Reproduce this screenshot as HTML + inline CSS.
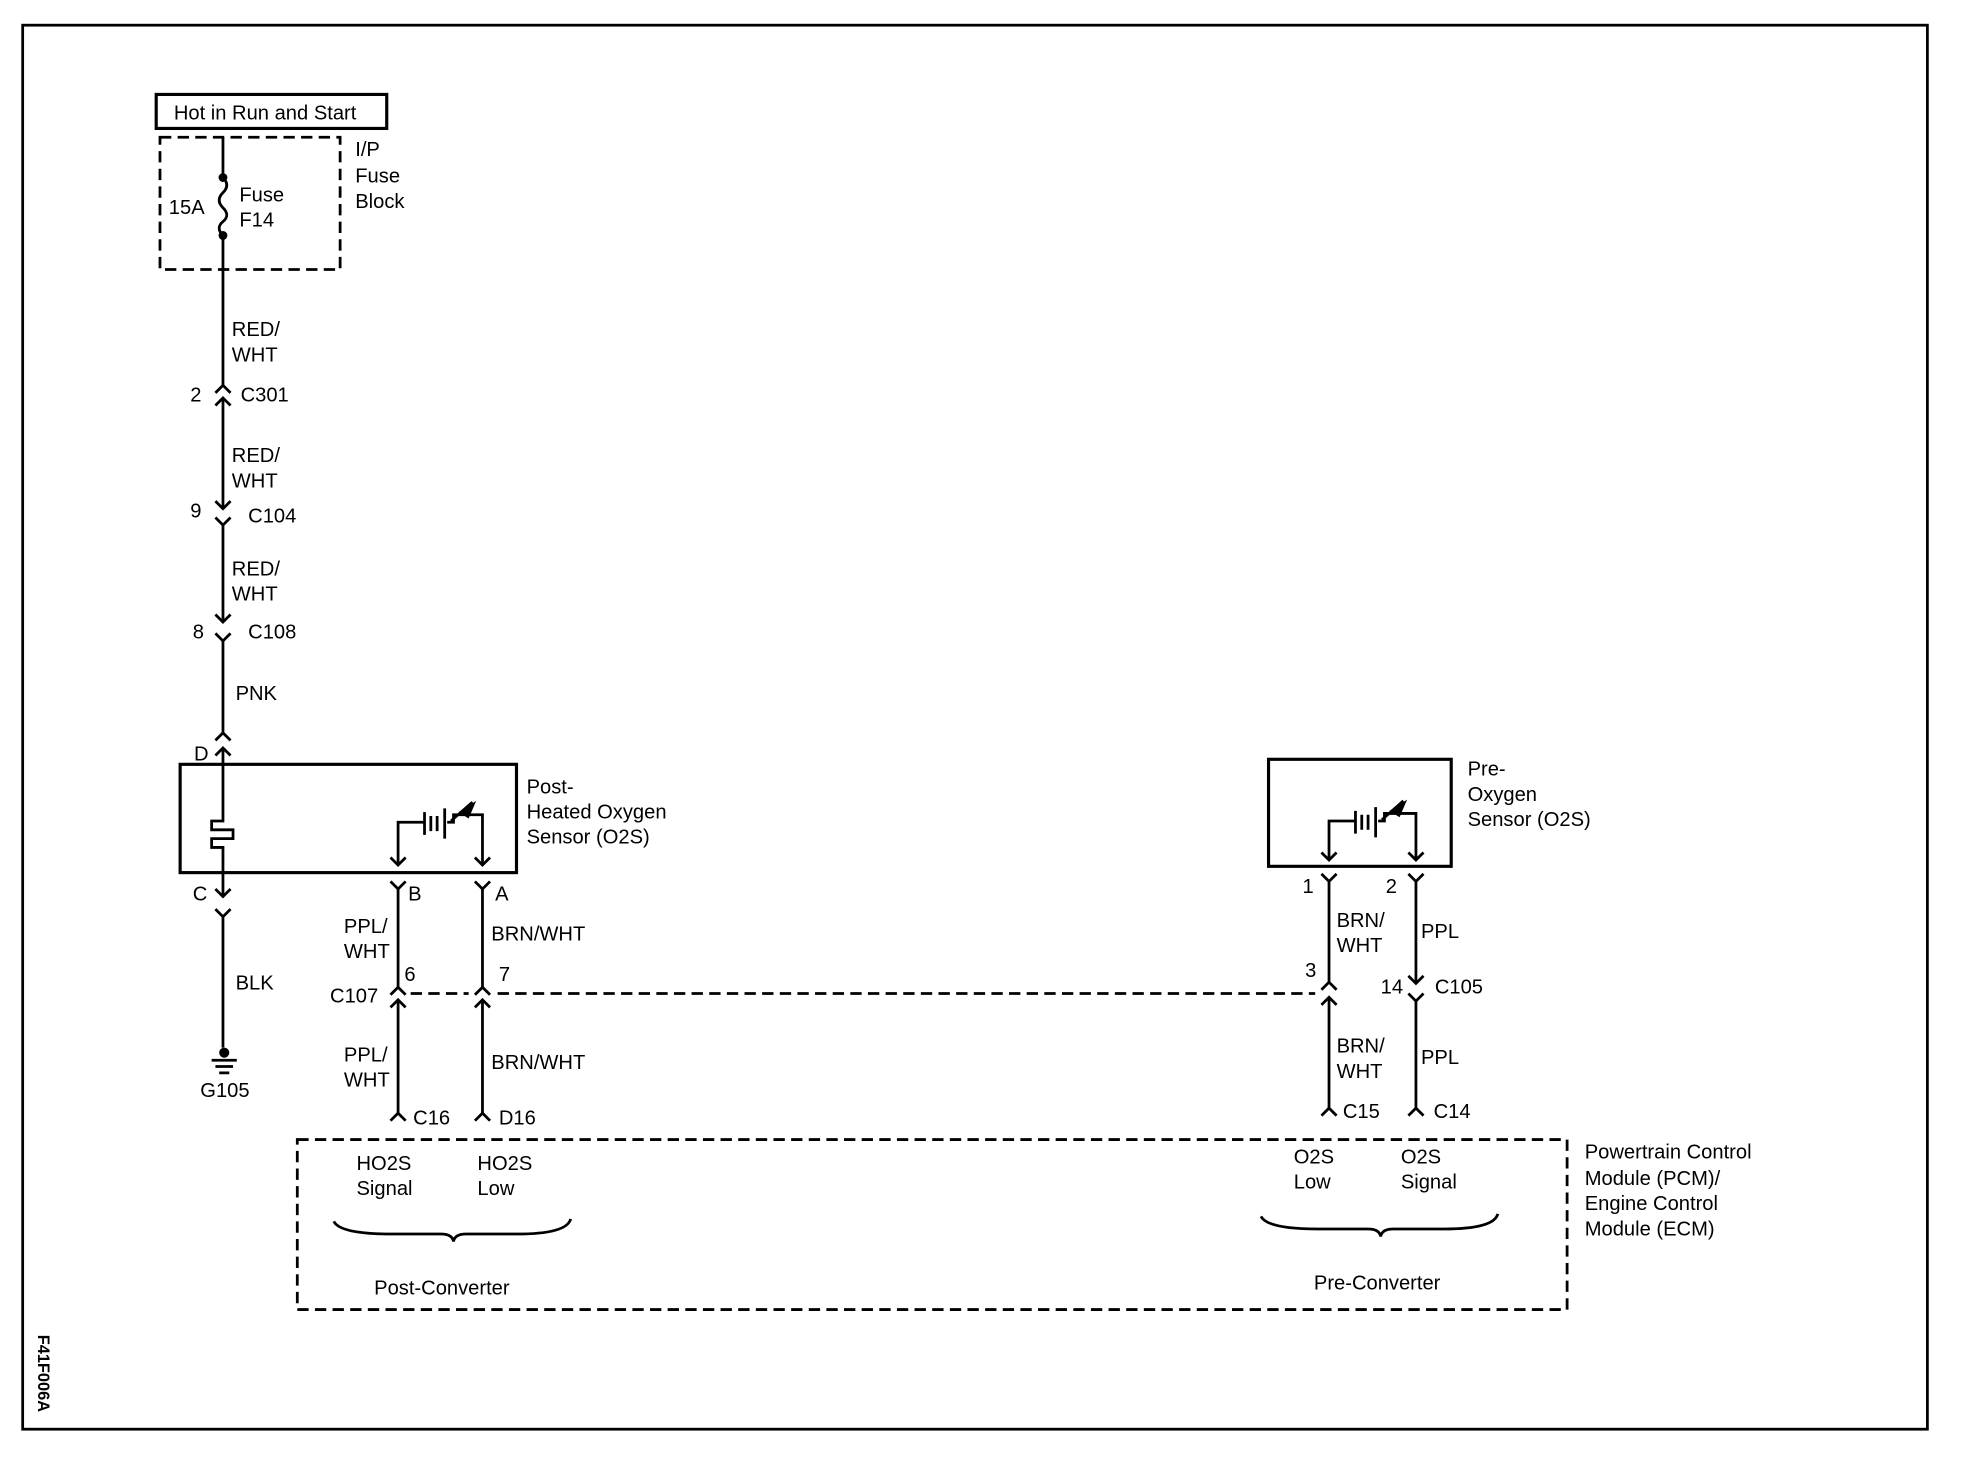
<!DOCTYPE html>
<html><head><meta charset="utf-8"><style>
html,body{margin:0;padding:0;background:#fff;}
svg{display:block;}
text{font-family:"Liberation Sans",sans-serif;font-size:16px;fill:#000;}
</style></head><body>
<svg width="1974" height="1472" viewBox="0 0 1567 1169" preserveAspectRatio="none" xmlns="http://www.w3.org/2000/svg">
<g fill="none" stroke="#000" stroke-width="2.2">
<rect x="18" y="20" width="1512" height="1115"/>
<rect x="124" y="75" width="183" height="27" stroke-width="2.5"/>
<rect x="127" y="109" width="143" height="105" stroke-dasharray="9,5"/>
<path d="M177 109 V141 M177 187 V306"/>
<path d="M177 141 q6 6 0 12 q-6 6 0 12 q6 6 0 11 q-6 5 0 11"/>
<polyline points="171,312 177,306 183,312"/>
<path d="M177 316 V404"/><polyline points="171,322 177,316 183,322"/>
<polyline points="171,398 177,404 183,398"/>
<polyline points="171,411 177,417 183,411"/><path d="M177 417 V494"/>
<polyline points="171,488 177,494 183,488"/>
<polyline points="171,503 177,509 183,503"/><path d="M177 509 V582"/>
<polyline points="171,588 177,582 183,588"/>
<path d="M177 594 V650"/><polyline points="171,600 177,594 183,600"/>
<rect x="143" y="607" width="267" height="86" stroke-width="2.5"/>
<path d="M177 650 V652 H168 V659 H185 V666 H168 V673 H177 V712"/>
<polyline points="171,706 177,712 183,706"/>
<polyline points="171,722 177,728 183,722"/><path d="M177 728 V832"/>
<path d="M168 842 H188 M171 847 H185 M174 852 H182"/>
<path d="M316 687 V653 H336 M337 645 V663 M342 648 V660 M347 648 V660 M353 642 V666 M355 653 H360 V647 H383 V687"/>
<path d="M358 652 L375 637"/>
<polyline points="310,681 316,687 322,681"/>
<polyline points="377,681 383,687 389,681"/>
<polyline points="310,700 316,706 322,700"/><path d="M316 706 V784"/>
<polyline points="377,700 383,706 389,700"/><path d="M383 706 V784"/>
<polyline points="310,790 316,784 322,790"/>
<polyline points="377,790 383,784 389,790"/>
<path d="M316 794 V884"/><polyline points="310,800 316,794 322,800"/>
<path d="M383 794 V884"/><polyline points="377,800 383,794 389,800"/>
<polyline points="310,890 316,884 322,890"/>
<polyline points="377,890 383,884 389,890"/>
<path d="M326 789 H372 M395 789 H1044" stroke-dasharray="9,5"/>
<rect x="236" y="905" width="1008" height="135" stroke-dasharray="9,5"/>
<path d="M265 970 q5 10 45 10 h40 q9 0 10 6 q1 -6 10 -6 h40 q40 0 43 -12"/>
<path d="M1001 966 q5 10 45 10 h40 q9 0 10 6 q1 -6 10 -6 h40 q40 0 43 -12"/>
<rect x="1007" y="603" width="145" height="85" stroke-width="2.5"/>
<path d="M1055 683 V652 H1075 M1076 644 V662 M1081 647 V659 M1086 647 V659 M1092 641 V665 M1094 652 H1099 V646 H1124 V683"/>
<path d="M1097 651 L1114 636"/>
<polyline points="1049,677 1055,683 1061,677"/>
<polyline points="1118,677 1124,683 1130,677"/>
<polyline points="1049,694 1055,700 1061,694"/><path d="M1055 700 V780"/>
<polyline points="1118,694 1124,700 1130,694"/><path d="M1124 700 V781"/>
<polyline points="1049,786 1055,780 1061,786"/>
<path d="M1055 792 V880"/><polyline points="1049,798 1055,792 1061,798"/>
<polyline points="1118,775 1124,781 1130,775"/>
<polyline points="1118,789 1124,795 1130,789"/><path d="M1124 795 V880"/>
<polyline points="1049,886 1055,880 1061,886"/>
<polyline points="1118,886 1124,880 1130,886"/>
</g>
<g stroke="none" fill="#000">
<circle cx="177" cy="141" r="3.5"/><circle cx="177" cy="187" r="3.5"/>
<circle cx="178" cy="836" r="4"/>
<path d="M364 645 L378 636 L372 650 Z"/>
<path d="M1103 644 L1117 635 L1111 649 Z"/>
</g>
<text x="138" y="95">Hot in Run and Start</text>
<text x="282" y="124">I/P</text><text x="282" y="145">Fuse</text><text x="282" y="165">Block</text>
<text x="134" y="170">15A</text>
<text x="190" y="160">Fuse</text><text x="190" y="180">F14</text>
<text x="184" y="267">RED/</text><text x="184" y="287">WHT</text>
<text x="151" y="319">2</text><text x="191" y="319">C301</text>
<text x="184" y="367">RED/</text><text x="184" y="387">WHT</text>
<text x="151" y="411">9</text><text x="197" y="415">C104</text>
<text x="184" y="457">RED/</text><text x="184" y="477">WHT</text>
<text x="153" y="507">8</text><text x="197" y="507">C108</text>
<text x="187" y="556">PNK</text>
<text x="154" y="604">D</text>
<text x="418" y="630">Post-</text><text x="418" y="650">Heated Oxygen</text><text x="418" y="670">Sensor (O2S)</text>
<text x="153" y="715">C</text>
<text x="324" y="715">B</text><text x="393" y="715">A</text>
<text x="187" y="786">BLK</text>
<text x="159" y="871">G105</text>
<text x="273" y="741">PPL/</text><text x="273" y="761">WHT</text>
<text x="390" y="747">BRN/WHT</text>
<text x="321" y="779">6</text><text x="396" y="779">7</text>
<text x="262" y="796">C107</text>
<text x="273" y="843">PPL/</text><text x="273" y="863">WHT</text>
<text x="390" y="849">BRN/WHT</text>
<text x="328" y="893">C16</text><text x="396" y="893">D16</text>
<text x="283" y="929">HO2S</text><text x="283" y="949">Signal</text>
<text x="379" y="929">HO2S</text><text x="379" y="949">Low</text>
<text x="297" y="1028">Post-Converter</text>
<text x="1165" y="616">Pre-</text><text x="1165" y="636">Oxygen</text><text x="1165" y="656">Sensor (O2S)</text>
<text x="1034" y="709">1</text><text x="1100" y="709">2</text>
<text x="1061" y="736">BRN/</text><text x="1061" y="756">WHT</text>
<text x="1128" y="745">PPL</text>
<text x="1036" y="776">3</text>
<text x="1096" y="789">14</text><text x="1139" y="789">C105</text>
<text x="1061" y="836">BRN/</text><text x="1061" y="856">WHT</text>
<text x="1128" y="845">PPL</text>
<text x="1066" y="888">C15</text><text x="1138" y="888">C14</text>
<text x="1027" y="924">O2S</text><text x="1027" y="944">Low</text>
<text x="1112" y="924">O2S</text><text x="1112" y="944">Signal</text>
<text x="1043" y="1024">Pre-Converter</text>
<text x="1258" y="920">Powertrain Control</text><text x="1258" y="941">Module (PCM)/</text>
<text x="1258" y="961">Engine Control</text><text x="1258" y="981">Module (ECM)</text>
<text x="0" y="0" transform="translate(30,1060) rotate(90)" style="font-size:13px;font-weight:bold">F41F006A</text>
</svg>
</body></html>
